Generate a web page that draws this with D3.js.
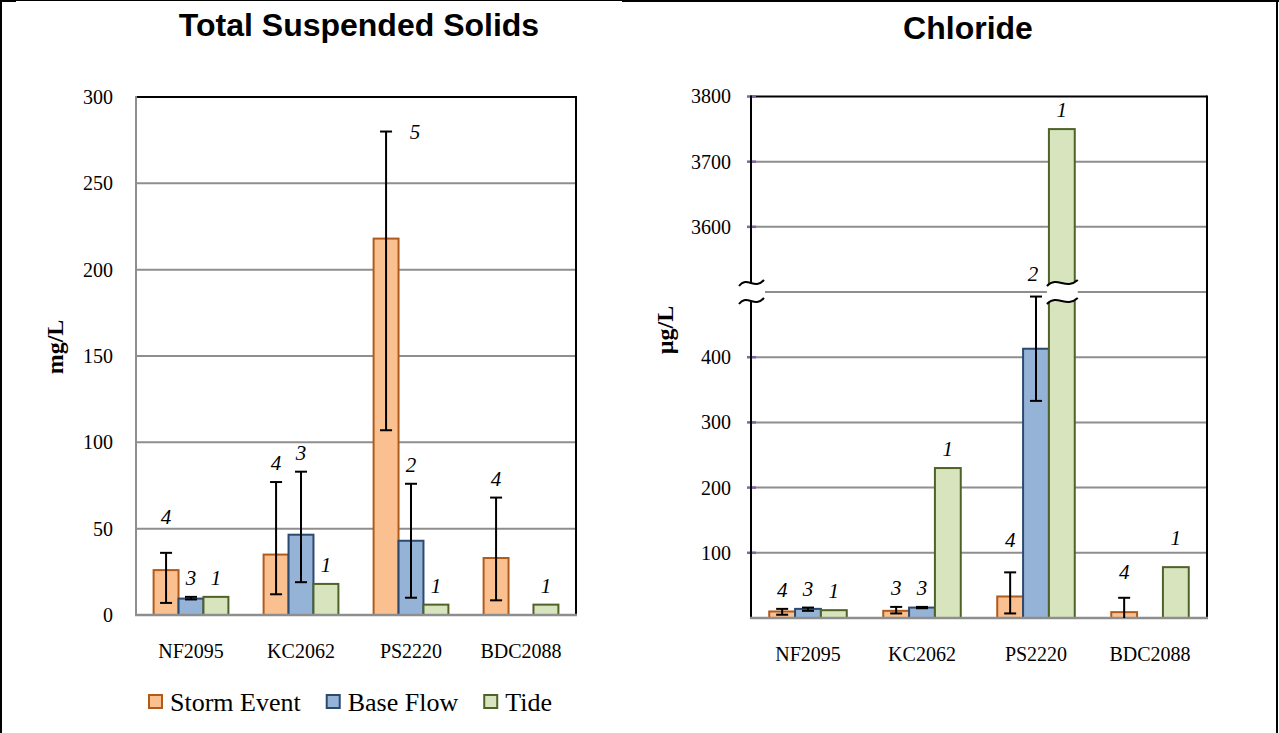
<!DOCTYPE html>
<html>
<head>
<meta charset="utf-8">
<script src="https://cdn.jsdelivr.net/npm/d3@7"></script>
<style>
  body { margin: 0; background: #fff; }
  svg { display: block; }
</style>
</head>
<body>
<svg id="chart" width="1279" height="733"></svg>
<script>
const sites = ['NF2095', 'KC2062', 'PS2220', 'BDC2088']
const seriesNames = ['Storm Event', 'Base Flow', 'Tide']

// Total Suspended Solids (mg/L)
const tssStorm = [26, 35, 218, 33]
const tssStormLo = [7, 12, 107, 8.5]
const tssStormHi = [36, 77, 280, 68]
const tssBase = [9.5, 46.5, 43, null]
const tssBaseLo = [9, 19, 10, null]
const tssBaseHi = [10.5, 83, 76, null]
const tssTide = [10.5, 18, 6, 6]
const tssStormN = [4, 4, 5, 4]
const tssBaseN = [3, 3, 2, null]
const tssTideN = [1, 1, 1, 1]
const tssTicks = [0, 50, 100, 150, 200, 250, 300]

// Chloride (µg/L)
const clStorm = [10, 11, 33, 9]
const clStormLo = [5, 7, 7, 0]
const clStormHi = [14, 17, 70, 31]
const clBase = [14, 16, 413, null]
const clBaseLo = [11, 15, 333, null]
const clBaseHi = [16, 17, 493, null]
const clTide = [12, 230, 3750, 78]
const clStormN = [4, 3, 4, 4]
const clBaseN = [3, 3, 2, null]
const clTideN = [1, 1, 1, 1]
const clTicks = [100, 200, 300, 400, 3600, 3700, 3800]
const clBreak = [500, 3500]

const fills = ['#fac090', '#95b3d7', '#d7e4bd']
const strokes = ['#b05a1c', '#2c4a70', '#4f6228']
const gridColor = '#8e8e8e'
const serif = "'Liberation Serif', 'Times New Roman', serif"
const sans = "'Liberation Sans', Arial, sans-serif"

function series (vals, lo, hi, n) {
  return vals.map((v, i) => ({ v, lo: lo ? lo[i] : null, hi: hi ? hi[i] : null, n: n[i] }))
}

const svg = d3.select('#chart')

// outer frame
svg.append('line').attr('x1', 0).attr('x2', 622).attr('y1', 0.5).attr('y2', 0.5)
  .attr('stroke', '#000').attr('stroke-width', 1)
svg.append('line').attr('x1', 622).attr('x2', 1279).attr('y1', 1).attr('y2', 1)
  .attr('stroke', '#000').attr('stroke-width', 2)
svg.append('line').attr('x1', 0).attr('x2', 16).attr('y1', 1).attr('y2', 1)
  .attr('stroke', '#000').attr('stroke-width', 2)
svg.append('line').attr('x1', 1).attr('x2', 1).attr('y1', 0).attr('y2', 733)
  .attr('stroke', '#000').attr('stroke-width', 2)
svg.append('line').attr('x1', 1277).attr('x2', 1277).attr('y1', 0).attr('y2', 733)
  .attr('stroke', '#000').attr('stroke-width', 2)

function tilde (g, x0, w, yc) {
  g.append('path')
    .attr('d', `M${x0},${yc + 3} C${x0 + w * 0.35},${yc - 8} ${x0 + w * 0.6},${yc + 8} ${x0 + w},${yc - 3}`)
    .attr('fill', 'none').attr('stroke', '#000').attr('stroke-width', 2)
}

function breakMark (g, x0, w, yc) {
  g.append('path')
    .attr('d', `M${x0},${yc - 6} C${x0 + w * 0.35},${yc - 17} ${x0 + w * 0.6},${yc - 1} ${x0 + w},${yc - 12}` +
      ` L${x0 + w},${yc + 6} C${x0 + w * 0.6},${yc + 17} ${x0 + w * 0.35},${yc + 1} ${x0},${yc + 12} Z`)
    .attr('fill', '#fff')
  tilde(g, x0, w, yc - 9)
  tilde(g, x0, w, yc + 9)
}

function drawPanel (p) {
  const g = svg.append('g')
  const x0 = d3.scaleBand().domain(sites).range([p.left, p.right]).paddingInner(0.32).paddingOuter(0.16)
  const x1 = d3.scaleBand().domain(seriesNames).range([0, x0.bandwidth()])
  const y = p.y
  const bottom = y(0)

  // gridlines
  g.selectAll('.grid').data(p.ticks.filter(t => t > 0 && t < p.max)).enter()
    .append('line')
    .attr('x1', p.left).attr('x2', p.right)
    .attr('y1', d => y(d)).attr('y2', d => y(d))
    .attr('stroke', gridColor).attr('stroke-width', 2)
  if (p.brk) {
    g.append('line').attr('x1', p.left + 14).attr('x2', p.right)
      .attr('y1', y(p.brk[0])).attr('y2', y(p.brk[0]))
      .attr('stroke', gridColor).attr('stroke-width', 2)
  }

  // frame
  g.append('line').attr('x1', p.left).attr('x2', p.right).attr('y1', y(p.max)).attr('y2', y(p.max))
    .attr('stroke', '#000').attr('stroke-width', 2)
  g.append('line').attr('x1', p.right).attr('x2', p.right).attr('y1', y(p.max) - 1).attr('y2', bottom)
    .attr('stroke', '#000').attr('stroke-width', 2)

  // bars
  p.data.forEach((s, si) => {
    g.selectAll(null).data(s).enter()
      .filter(d => d.v != null)
      .append('rect')
      .attr('x', d => x0(sites[s.indexOf(d)]) + x1(seriesNames[si]))
      .attr('y', d => y(d.v))
      .attr('width', x1.bandwidth())
      .attr('height', d => bottom - y(d.v))
      .attr('fill', fills[si])
      .attr('stroke', strokes[si])
      .attr('stroke-width', 2)
  })

  // left axis
  const ax = g.append('g').attr('transform', `translate(${p.left},0)`)
    .call(d3.axisLeft(y).tickValues(p.ticks).tickSize(0).tickPadding(p.tickPad).tickFormat(d3.format('d')))
  ax.select('.domain').remove()
  ax.selectAll('text').attr('fill', '#000')
    .style('font-size', '20px').style('font-family', serif)
  if (p.purpleTicks) {
    g.selectAll('.ptick').data(p.ticks).enter().append('line')
      .attr('x1', p.left - 4).attr('x2', p.left + 5)
      .attr('y1', d => y(d)).attr('y2', d => y(d))
      .attr('stroke', '#8064a2').attr('stroke-width', 2.5)
  }
  g.append('line').attr('x1', p.left).attr('x2', p.left).attr('y1', y(p.max) - 1).attr('y2', bottom)
    .attr('stroke', p.axisColor).attr('stroke-width', 2)
  g.append('line').attr('x1', p.left - 1).attr('x2', p.right + 1).attr('y1', bottom).attr('y2', bottom)
    .attr('stroke', gridColor).attr('stroke-width', 2.5)

  // error bars
  p.data.forEach((s, si) => {
    s.forEach((d, i) => {
      if (d.v == null || d.lo == null) return
      const cx = x0(sites[i]) + x1(seriesNames[si]) + x1.bandwidth() / 2
      const eg = g.append('g').attr('stroke', '#000').attr('stroke-width', 2)
      eg.append('line').attr('x1', cx).attr('x2', cx).attr('y1', y(d.lo)).attr('y2', y(d.hi))
      eg.append('line').attr('x1', cx - 6).attr('x2', cx + 6).attr('y1', y(d.hi)).attr('y2', y(d.hi))
      if (d.lo > 0) eg.append('line').attr('x1', cx - 6).attr('x2', cx + 6).attr('y1', y(d.lo)).attr('y2', y(d.lo))
    })
  })

  // breaks
  if (p.brk) {
    const yb = y(p.brk[0])
    breakMark(g, p.left - 12, 25, yb)
    p.data.forEach((s, si) => {
      s.forEach((d, i) => {
        if (d.v != null && d.v > p.brk[1]) {
          breakMark(g, x0(sites[i]) + x1(seriesNames[si]) - 2, x1.bandwidth() + 5, yb)
        }
      })
    })
  }

  // sample counts
  p.data.forEach((s, si) => {
    s.forEach((d, i) => {
      if (d.n == null) return
      const cx = x0(sites[i]) + x1(seriesNames[si]) + x1.bandwidth() / 2
      const top = y(d.hi != null ? Math.max(d.hi, d.v) : d.v)
      const nudge = (p.nudge && p.nudge[si + '-' + i]) || [0, 0]
      g.append('text')
        .attr('x', cx + nudge[0]).attr('y', top - 12 + nudge[1])
        .attr('text-anchor', 'middle')
        .style('font-family', serif).style('font-size', '21px').style('font-style', 'italic')
        .text(d.n)
    })
  })

  // category labels
  g.selectAll('.cat').data(sites).enter().append('text')
    .attr('x', d => x0(d) + x0.bandwidth() / 2)
    .attr('y', bottom + 43)
    .attr('text-anchor', 'middle')
    .style('font-family', serif).style('font-size', '20px')
    .text(d => d)

  // titles
  g.append('text').attr('x', p.titleX).attr('y', p.titleY)
    .attr('text-anchor', 'middle')
    .style('font-family', sans).style('font-weight', 'bold').style('font-size', '32px')
    .text(p.title)
  g.append('text')
    .attr('transform', `translate(${p.ylabX},${p.ylabY}) rotate(-90)`)
    .attr('text-anchor', 'middle')
    .style('font-family', serif).style('font-weight', 'bold').style('font-size', '24px')
    .text(p.ylab)

  return { x0, x1 }
}

drawPanel({
  left: 136, right: 576, max: 300,
  y: d3.scaleLinear().domain([0, 300]).range([615, 97]),
  ticks: tssTicks, tickPad: 23, axisColor: gridColor,
  data: [
    series(tssStorm, tssStormLo, tssStormHi, tssStormN),
    series(tssBase, tssBaseLo, tssBaseHi, tssBaseN),
    series(tssTide, null, null, tssTideN)
  ],
  nudge: { '0-0': [0, -17], '0-2': [29, 19] },
  title: 'Total Suspended Solids', titleX: 359, titleY: 36,
  ylab: 'mg/L', ylabX: 63, ylabY: 347
})

drawPanel({
  left: 751, right: 1207, max: 3800,
  y: d3.scaleLinear().domain([0, clBreak[0], clBreak[1], 3800]).range([618, 292, 292, 96.5]),
  ticks: clTicks, tickPad: 20, axisColor: '#000', purpleTicks: true,
  brk: clBreak,
  data: [
    series(clStorm, clStormLo, clStormHi, clStormN),
    series(clBase, clBaseLo, clBaseHi, clBaseN),
    series(clTide, null, null, clTideN)
  ],
  nudge: { '0-2': [0, -13], '0-3': [0, -7], '2-3': [0, -10], '1-2': [-3, -4] },
  title: 'Chloride', titleX: 968, titleY: 39,
  ylab: 'µg/L', ylabX: 673, ylabY: 330
})

// legend
const leg = svg.append('g')
let lx = 149
seriesNames.forEach((name, i) => {
  leg.append('rect').attr('x', lx).attr('y', 695).attr('width', 13).attr('height', 13)
    .attr('fill', fills[i]).attr('stroke', strokes[i]).attr('stroke-width', 2)
  const t = leg.append('text').attr('x', lx + 21).attr('y', 711)
    .style('font-family', serif).style('font-size', '26px').text(name)
  lx += 21 + t.node().getComputedTextLength() + 26
})
</script>
</body>
</html>
